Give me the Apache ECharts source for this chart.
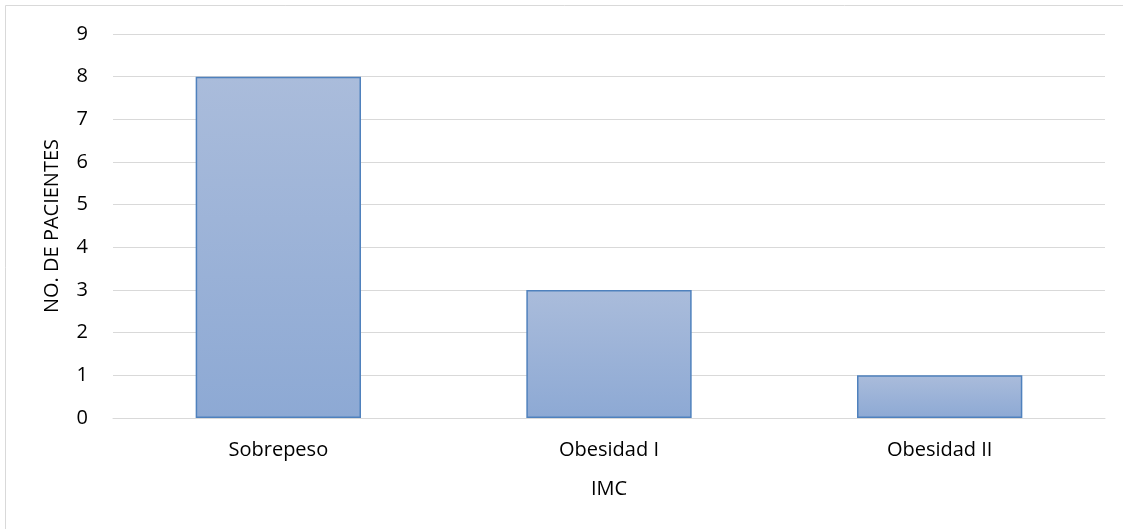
<!DOCTYPE html>
<html>
<head>
<meta charset="utf-8">
<script src="https://cdn.jsdelivr.net/npm/echarts@6/dist/echarts.min.js"></script>
<style>
html,body{margin:0;padding:0;background:#fff;}
#c{width:1123px;height:529px;}
</style>
</head>
<body>
<div id="c"></div>
<script>
const categories = ['Sobrepeso', 'Obesidad I', 'Obesidad II'];
const values = [8, 3, 1];
const yTicks = [0, 9, 1];
const xName = 'IMC';
const yName = 'NO. DE PACIENTES';

const chart = echarts.init(document.getElementById('c'));
const font = 'Open Sans';
chart.setOption({
  animation: false,
  backgroundColor: '#fff',
  graphic: [{
    type: 'rect',
    shape: { x: 5.5, y: 5.5, width: 1130, height: 540 },
    style: { fill: 'none', stroke: '#d9d9d9', lineWidth: 1 },
    silent: true
  }],
  grid: { left: 113, right: 18, top: 34, bottom: 111, containLabel: false },
  xAxis: {
    type: 'category',
    data: categories,
    name: xName,
    nameLocation: 'middle',
    nameGap: 61,
    nameTextStyle: { fontFamily: font, fontSize: 20, color: '#000' },
    axisLine: { show: true, lineStyle: { color: '#d9d9d9', width: 1 } },
    axisTick: { show: false },
    axisLabel: { fontFamily: font, fontSize: 20, color: '#000', margin: 22 }
  },
  yAxis: {
    type: 'value',
    min: yTicks[0],
    max: yTicks[1],
    interval: yTicks[2],
    name: yName,
    nameLocation: 'middle',
    nameGap: 51,
    nameTextStyle: { fontFamily: font, fontSize: 20, color: '#000' },
    axisLine: { show: false },
    axisTick: { show: false },
    axisLabel: { fontFamily: font, fontSize: 20, color: '#000', margin: 25 },
    splitLine: { show: true, lineStyle: { color: '#d9d9d9', width: 1 } }
  },
  series: [{
    type: 'bar',
    data: values,
    barWidth: '50%',
    itemStyle: {
      color: new echarts.graphic.LinearGradient(0, 0, 0, 1, [
        { offset: 0, color: '#aabcdb' },
        { offset: 1, color: '#8da9d4' }
      ]),
      borderColor: '#4f81bd',
      borderWidth: 1.5
    }
  }]
});
</script>
</body>
</html>
